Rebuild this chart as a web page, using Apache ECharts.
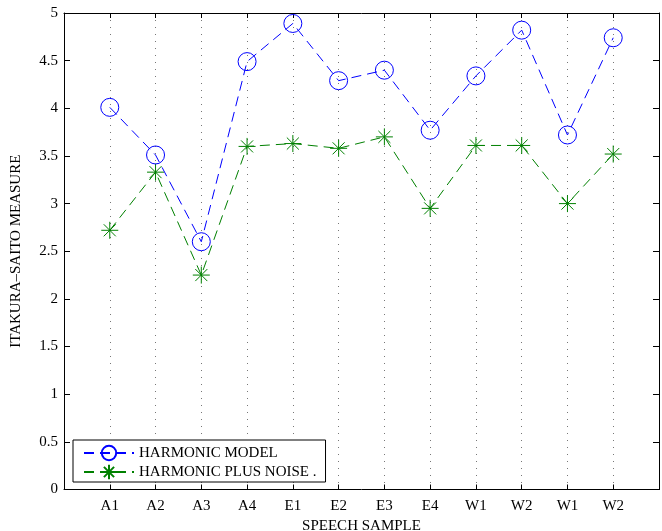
<!DOCTYPE html>
<html>
<head>
<meta charset="utf-8">
<script src="https://cdn.jsdelivr.net/npm/echarts@6/dist/echarts.min.js"></script>
<style>html,body{margin:0;padding:0;background:#fff}#c{width:662px;height:531px}</style>
</head>
<body>
<div id="c"></div>
<script>
const categories = ['A1','A2','A3','A4','E1','E2','E3','E4','W1','W2','W1','W2'];
const harmonicModel = [4.01, 3.51, 2.60, 4.49, 4.89, 4.29, 4.40, 3.77, 4.34, 4.82, 3.72, 4.74];
const harmonicPlusNoise = [2.72, 3.33, 2.25, 3.60, 3.63, 3.58, 3.70, 2.95, 3.61, 3.61, 3.00, 3.52];
const yTicks = [0, 0.5, 1, 1.5, 2, 2.5, 3, 3.5, 4, 4.5, 5];

const FONT = 'Liberation Serif';
const BLUE = '#0000ff';
const GREEN = '#008000';
const STAR = 'path://M0,8L16,8M8,0L8,16M2.34,2.34L13.66,13.66M13.66,2.34L2.34,13.66';

const chart = echarts.init(document.getElementById('c'));
const toPairs = arr => arr.map((v, i) => [i + 1, v]);

chart.setOption({
  animation: false,
  backgroundColor: '#fff',
  grid: {left: 64, right: 3, top: 13, bottom: 41.5, containLabel: false, outerBoundsMode: 'none'},
  legend: {
    orient: 'vertical',
    left: 73, top: 440,
    backgroundColor: '#fff',
    borderColor: '#000', borderWidth: 1,
    padding: [4, 9, 1, 10],
    itemWidth: 50, itemHeight: 18, itemGap: 1,
    textStyle: {fontFamily: FONT, fontSize: 15, color: '#000', lineHeight: 18},
    data: [
      {name: 'HARMONIC MODEL'},
      {name: 'HARMONIC PLUS NOISE .'}
    ]
  },
  xAxis: [{
    type: 'value', min: 0, max: categories.length + 1, interval: 1,
    name: 'SPEECH SAMPLE', nameLocation: 'middle', nameGap: 26,
    nameTextStyle: {fontFamily: FONT, fontSize: 15, color: '#000'},
    axisLine: {show: true, onZero: false, lineStyle: {color: '#000', width: 1}},
    axisTick: {show: true, inside: true, length: 5, lineStyle: {color: '#000'}},
    axisLabel: {
      fontFamily: FONT, fontSize: 15, color: '#000', margin: 9,
      formatter: v => (v >= 1 && v <= categories.length) ? categories[v - 1] : ''
    },
    splitLine: {show: true, lineStyle: {color: '#777', type: [1, 6], width: 1}}
  }, {
    type: 'value', position: 'top', min: 0, max: categories.length + 1, interval: 1,
    axisLine: {show: true, onZero: false, lineStyle: {color: '#000', width: 1}},
    axisTick: {show: true, inside: true, length: 5, lineStyle: {color: '#000'}},
    axisLabel: {show: false},
    splitLine: {show: false}
  }],
  yAxis: [{
    type: 'value', min: yTicks[0], max: yTicks[yTicks.length - 1], interval: 0.5,
    name: 'ITAKURA–SAITO MEASURE', nameLocation: 'middle', nameGap: 40,
    nameTextStyle: {fontFamily: FONT, fontSize: 15, color: '#000'},
    axisLine: {show: true, onZero: false, lineStyle: {color: '#000', width: 1}},
    axisTick: {show: true, inside: true, length: 6, lineStyle: {color: '#000'}},
    axisLabel: {fontFamily: FONT, fontSize: 15, color: '#000', margin: 6},
    splitLine: {show: false}
  }, {
    type: 'value', position: 'right', min: yTicks[0], max: yTicks[yTicks.length - 1], interval: 0.5,
    axisLine: {show: true, onZero: false, lineStyle: {color: '#000', width: 1}},
    axisTick: {show: true, inside: true, length: 6, lineStyle: {color: '#000'}},
    axisLabel: {show: false},
    splitLine: {show: false}
  }],
  series: [{
    name: 'HARMONIC MODEL',
    type: 'line',
    data: toPairs(harmonicModel),
    symbol: 'circle', symbolSize: 18,
    itemStyle: {color: 'rgba(0,0,0,0)', borderColor: BLUE, borderWidth: 1},
    lineStyle: {color: BLUE, width: 1, type: [10, 6]},
    z: 3
  }, {
    name: 'HARMONIC PLUS NOISE .',
    type: 'line',
    data: toPairs(harmonicPlusNoise),
    symbol: STAR, symbolSize: 17,
    itemStyle: {color: 'rgba(0,0,0,0)', borderColor: GREEN, borderWidth: 1},
    lineStyle: {color: GREEN, width: 1, type: [10, 6]},
    z: 2
  }]
});
</script>
</body>
</html>
